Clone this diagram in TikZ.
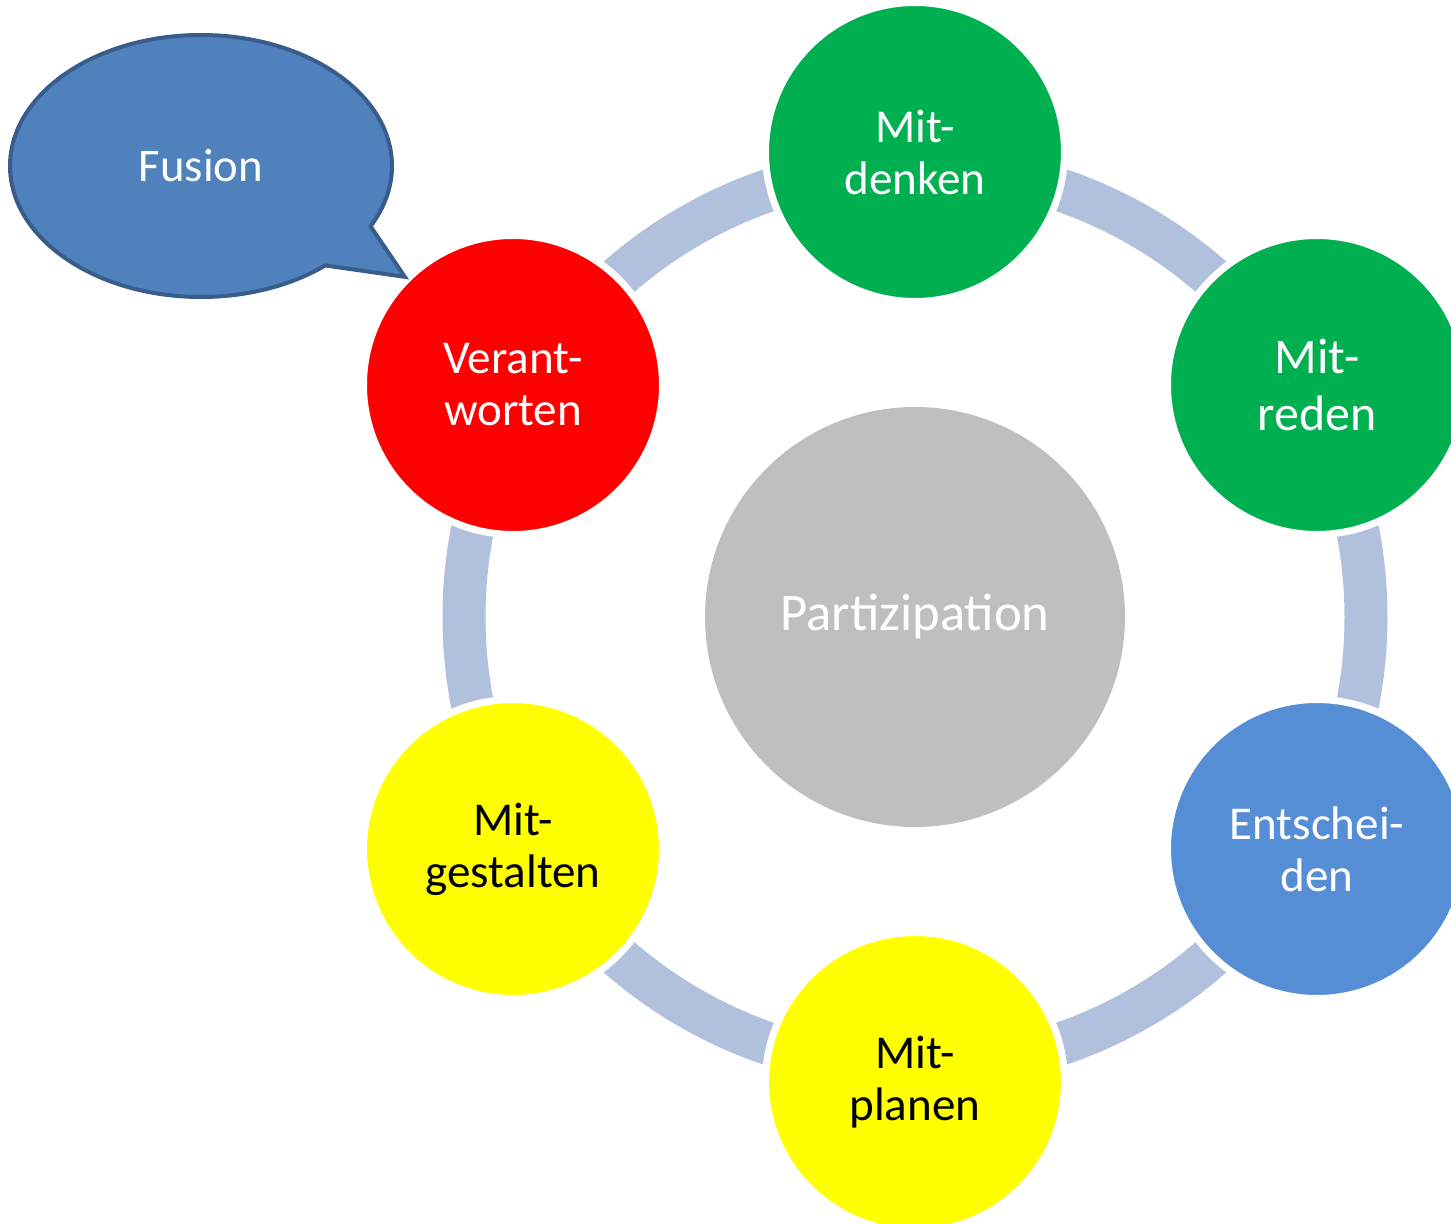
\documentclass[tikz,border=0pt]{standalone}
\usepackage{fontspec}
\setmainfont{Carlito}
\usetikzlibrary{shapes.callouts}

\definecolor{ringblue}{HTML}{B1C1DD}
\definecolor{coregray}{HTML}{BFBFBF}
\definecolor{discgreen}{HTML}{00B050}
\definecolor{discred}{HTML}{FF0000}
\definecolor{discyellow}{HTML}{FFFF00}
\definecolor{discblue}{HTML}{558ED5}
\definecolor{calloutfill}{HTML}{4F81BD}
\definecolor{calloutline}{HTML}{385D8A}

\begin{document}
\begin{tikzpicture}[
  ring/.style    = {draw=ringblue, line width=0.43cm},
  core/.style    = {circle, fill=coregray, minimum size=4.2cm, inner sep=0pt,
                    text=white, font=\fontsize{15}{18}\selectfont},
  disc/.style    = {circle, draw=white, line width=0.07cm, minimum size=2.99cm,
                    inner sep=0pt, align=center, text=white,
                    font=\fontsize{13.4}{14.8}\selectfont},
  dark/.style    = {text=black},
  speech/.style  = {ellipse callout, fill=calloutfill, draw=calloutline, line width=0.04cm,
                    minimum width=3.82cm, minimum height=2.62cm, callout pointer arc=22,
                    text=white, font=\fontsize{13.3}{16}\selectfont},
]
\useasboundingbox (0,0) rectangle (14.51,-12.24);
\clip (0,0) rectangle (14.51,-12.24);

% ---- centre and ring --------------------------------------------------------
\node[core] (part) at (9.15,-6.17) {Partizipation};
\draw[ring] (part.center) circle (4.51);

% ---- the six stages ---------------------------------------------------------
\node[disc, fill=discgreen]  (denken)  at ( 9.15,-1.52) {Mit-\\denken};
\node[disc, fill=discgreen, font=\fontsize{14.2}{16.3}\selectfont] (reden) at (13.17,-3.85) {Mit-\\reden};
\node[disc, fill=discblue]   (entsch)  at (13.17,-8.49) {Entschei-\\den};
\node[disc, dark, fill=discyellow] (planen)  at ( 9.15,-10.82) {Mit-\\planen};
\node[disc, dark, fill=discyellow] (gestalt) at ( 5.13,-8.49) {Mit-\\gestalten};
\node[disc, fill=discred]    (verant)  at ( 5.13,-3.85) {Verant-\\worten};

% ---- speech bubble ----------------------------------------------------------
\node[speech, callout absolute pointer={(verant.135)}] (fusion) at (2.01,-1.66) {Fusion};

\end{tikzpicture}
\end{document}
